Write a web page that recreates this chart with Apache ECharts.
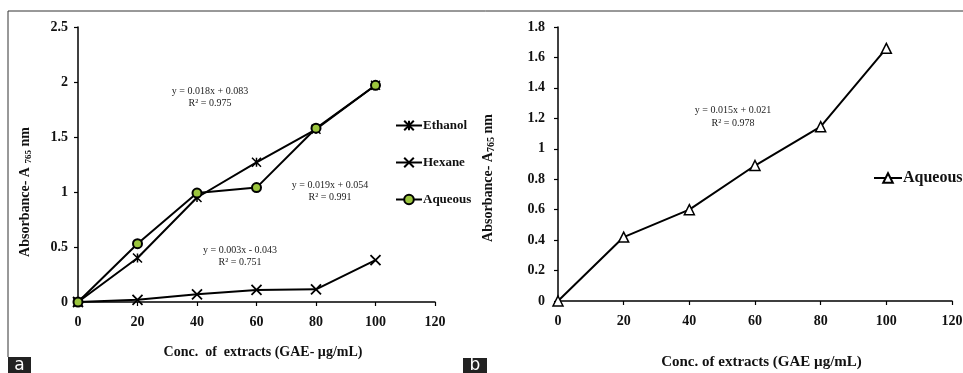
<!DOCTYPE html>
<html>
<head>
<meta charset="utf-8">
<script src="https://cdn.jsdelivr.net/npm/echarts@6/dist/echarts.min.js"></script>
<style>
  html, body { margin: 0; padding: 0; background: #fff; }
  #chart { width: 963px; height: 373px; }
</style>
</head>
<body>
<div id="chart"></div>
<script>
const concLevels = [0, 20, 40, 60, 80, 100];
const ethanolA = [0, 0.40, 0.95, 1.27, 1.57, 1.97];
const hexaneA = [0, 0.02, 0.07, 0.11, 0.115, 0.38];
const aqueousA = [0, 0.53, 0.99, 1.04, 1.58, 1.97];
const aqueousB = [0, 0.42, 0.60, 0.89, 1.145, 1.66];
const xTicks = { min: 0, max: 120, interval: 20 };
const yTicksA = { min: 0, max: 2.5, interval: 0.5 };
const yTicksB = { min: 0, max: 1.8, interval: 0.2 };

const serif = '"Liberation Serif", "DejaVu Serif", serif';
const pairs = (ys) => concLevels.map((x, i) => [x, ys[i]]);

const axisCommon = {
  axisLine: { lineStyle: { color: '#000', width: 1.5 } },
  axisTick: { show: true, length: 4, lineStyle: { color: '#000', width: 1.2 } },
  splitLine: { show: false },
  axisLabel: { color: '#111', fontFamily: serif, fontWeight: 'bold', fontSize: 14 },
};

const lineSeries = (name, data, xi, symbol, size, itemStyle) => ({
  name,
  type: 'line',
  xAxisIndex: xi,
  yAxisIndex: xi,
  data: pairs(data),
  symbol,
  symbolSize: size,
  showAllSymbol: true,
  lineStyle: { color: '#000', width: 2 },
  itemStyle,
  z: name === 'Aqueous' ? 3 : 2,
});

const chart = echarts.init(document.getElementById('chart'));
chart.setOption({
  animation: false,
  backgroundColor: '#fff',
  grid: [
    { left: 78, right: 528, top: 27, bottom: 71, outerBoundsMode: 'none' },
    { left: 558, right: 11, top: 27, bottom: 72, outerBoundsMode: 'none' },
  ],
  xAxis: [0, 1].map((i) => ({
    ...axisCommon,
    type: 'value',
    gridIndex: i,
    ...xTicks,
    axisLabel: { ...axisCommon.axisLabel, margin: 13 },
    name: i === 0 ? 'Conc.  of  extracts (GAE- µg/mL)' : 'Conc. of extracts (GAE µg/mL)',
    nameLocation: 'middle',
    nameGap: i === 0 ? 43 : 54,
    nameTextStyle: {
      color: '#111',
      fontFamily: serif,
      fontWeight: 'bold',
      fontSize: i === 0 ? 14 : 15,
      padding: [0, 0, 0, 13],
    },
  })),
  yAxis: [0, 1].map((i) => ({
    ...axisCommon,
    type: 'value',
    gridIndex: i,
    ...(i === 0 ? yTicksA : yTicksB),
    axisLabel: { ...axisCommon.axisLabel, margin: i === 0 ? 10 : 13 },
  })),
  legend: [
    {
      orient: 'vertical',
      left: 390,
      top: 114,
      itemGap: 24,
      itemWidth: 26,
      itemHeight: 12,
      data: ['Ethanol', 'Hexane', 'Aqueous'],
      textStyle: { color: '#111', fontFamily: serif, fontWeight: 'bold', fontSize: 13, padding: [0, 0, 0, -4] },
    },
    {
      left: 868,
      top: 165,
      itemWidth: 28,
      itemHeight: 12,
      data: ['Aqueous (b)'],
      formatter: () => 'Aqueous',
      textStyle: { color: '#111', fontFamily: serif, fontWeight: 'bold', fontSize: 16, padding: [0, 0, 0, -4] },
    },
  ],
  series: [
    lineSeries('Ethanol', ethanolA, 0, 'path://M0,0L10,10M10,0L0,10M5,0L5,10', 9,
      { color: 'transparent', borderColor: '#000', borderWidth: 1.5 }),
    lineSeries('Hexane', hexaneA, 0, 'path://M0,0L10,10M10,0L0,10', 10,
      { color: 'transparent', borderColor: '#000', borderWidth: 1.8 }),
    lineSeries('Aqueous', aqueousA, 0, 'circle', 9,
      { color: '#9bc53d', borderColor: '#000', borderWidth: 2 }),
    lineSeries('Aqueous (b)', aqueousB, 1, 'triangle', 10,
      { color: '#fff', borderColor: '#000', borderWidth: 1.5 }),
  ],
  graphic: [
    { type: 'line', shape: { x1: 8, y1: 11, x2: 963, y2: 11 }, style: { stroke: '#333', lineWidth: 1 } },
    { type: 'line', shape: { x1: 8, y1: 11, x2: 8, y2: 357 }, style: { stroke: '#333', lineWidth: 1 } },
    { type: 'rect', shape: { x: 8, y: 357, width: 23, height: 16 }, style: { fill: '#222' } },
    { type: 'text', x: 19.5, y: 366, style: { text: 'a', fill: '#fff', font: '17px "DejaVu Sans", sans-serif', align: 'center', verticalAlign: 'middle' } },
    { type: 'rect', shape: { x: 463, y: 358, width: 24, height: 15 }, style: { fill: '#222' } },
    { type: 'text', x: 475, y: 366, style: { text: 'b', fill: '#fff', font: '17px "DejaVu Sans", sans-serif', align: 'center', verticalAlign: 'middle' } },
    {
      type: 'text', x: 25, y: 192, rotation: Math.PI / 2,
      style: {
        text: '{a|Absorbance- A }{s|765}{a| nm}', align: 'center', verticalAlign: 'middle',
        rich: {
          a: { fontFamily: serif, fontWeight: 'bold', fontSize: 14, fill: '#111', lineHeight: 16 },
          s: { fontFamily: serif, fontWeight: 'bold', fontSize: 9, fill: '#111', lineHeight: 10, verticalAlign: 'bottom' },
        },
      },
    },
    {
      type: 'text', x: 488, y: 178, rotation: Math.PI / 2,
      style: {
        text: '{a|Absorbance- A}{s|765}{a| nm}', align: 'center', verticalAlign: 'middle',
        rich: {
          a: { fontFamily: serif, fontWeight: 'bold', fontSize: 14, fill: '#111', lineHeight: 16 },
          s: { fontFamily: serif, fontWeight: 'bold', fontSize: 10, fill: '#111', lineHeight: 10, verticalAlign: 'bottom' },
        },
      },
    },
    { type: 'text', x: 210, y: 97, style: { text: 'y = 0.018x + 0.083\nR² = 0.975', fill: '#222', font: '10px ' + serif, align: 'center', verticalAlign: 'middle', lineHeight: 12 } },
    { type: 'text', x: 330, y: 191, style: { text: 'y = 0.019x + 0.054\nR² = 0.991', fill: '#222', font: '10px ' + serif, align: 'center', verticalAlign: 'middle', lineHeight: 12 } },
    { type: 'text', x: 240, y: 256, style: { text: 'y = 0.003x - 0.043\nR² = 0.751', fill: '#222', font: '10px ' + serif, align: 'center', verticalAlign: 'middle', lineHeight: 12 } },
    { type: 'text', x: 733, y: 117, style: { text: 'y = 0.015x + 0.021\nR² = 0.978', fill: '#222', font: '10px ' + serif, align: 'center', verticalAlign: 'middle', lineHeight: 13 } },
  ],
});
</script>
</body>
</html>
